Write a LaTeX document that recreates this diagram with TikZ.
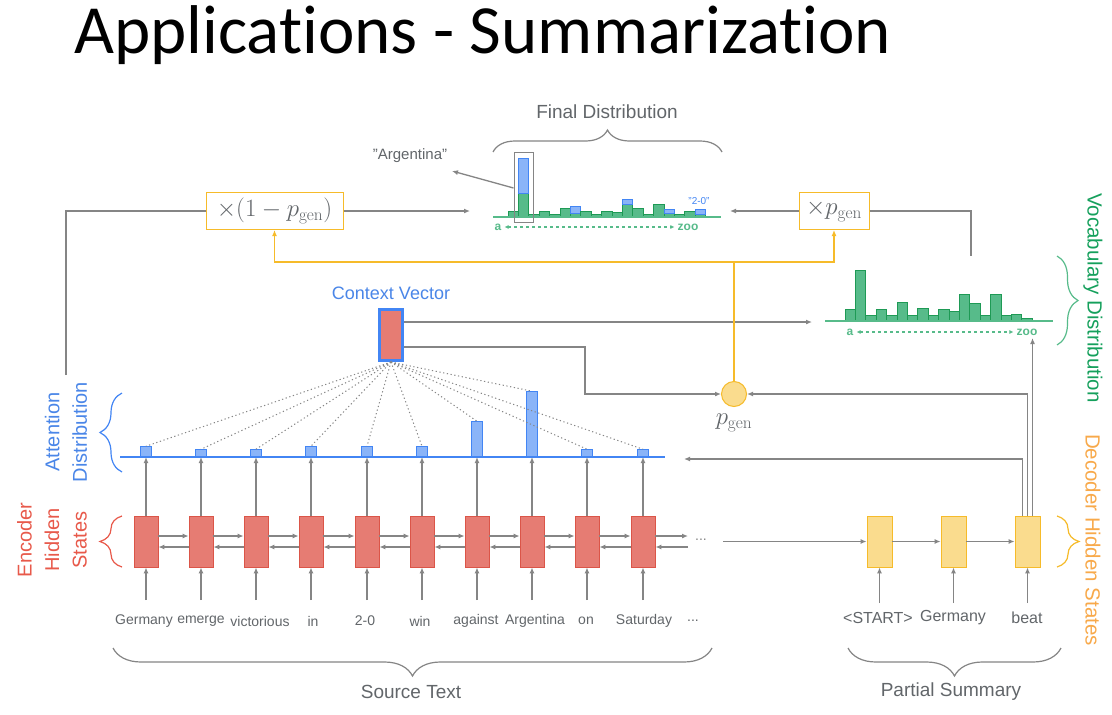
\documentclass[tikz,border=0pt]{standalone}
\usepackage[no-math]{fontspec}
\setmainfont{Liberation Sans}
\newfontfamily\titlefont[Ligatures={NoCommon}]{Carlito}
\usetikzlibrary{arrows.meta,decorations.pathreplacing,calc}
\definecolor{lgray}{HTML}{858585}
\definecolor{tgray}{HTML}{62666A}
\definecolor{redfill}{HTML}{E67C73}
\definecolor{reddraw}{HTML}{DB5548}
\definecolor{redtext}{HTML}{E8594A}
\definecolor{bluefill}{HTML}{8AB4F8}
\definecolor{bluedraw}{HTML}{4285F4}
\definecolor{bluetext}{HTML}{4A86E8}
\definecolor{greenfill}{HTML}{57BB8A}
\definecolor{greendraw}{HTML}{1E9A55}
\definecolor{greentext}{HTML}{15A05C}
\definecolor{yfill}{HTML}{FADC8E}
\definecolor{ydraw}{HTML}{F6BB2A}
\definecolor{otext}{HTML}{F8A94A}
\begin{document}
\begin{tikzpicture}[x=1pt,y=-1pt,
  arr/.style={draw=lgray, line width=1.3pt, -{Latex[length=6pt,width=5pt]}},
  gline/.style={draw=lgray, line width=1.3pt},
  oarr/.style={draw=ydraw, line width=1.3pt, -{Latex[length=6pt,width=5pt]}},
  oline/.style={draw=ydraw, line width=1.3pt},
  encbox/.style={rectangle, draw=reddraw, fill=redfill, line width=0.8pt, minimum width=24pt, minimum height=51pt, inner sep=0pt},
  decbox/.style={rectangle, draw=ydraw, fill=yfill, line width=0.8pt, minimum width=25pt, minimum height=51pt, inner sep=0pt},
  attbar/.style={rectangle, draw=bluedraw, fill=bluefill, line width=0.8pt, minimum width=11pt, inner sep=0pt},
  gbar/.style={draw=greendraw, fill=greenfill, line width=0.8pt},
  bbar/.style={draw=bluedraw, fill=bluefill, line width=0.8pt},
  word/.style={font=\fontsize{14}{16}\selectfont, text=tgray, inner sep=1pt},
  dword/.style={font=\fontsize{16}{18}\selectfont, text=tgray, inner sep=1pt},
  lbl/.style={font=\fontsize{19}{22}\selectfont, text=tgray, inner sep=1pt},
  mulbox/.style={rectangle, draw=ydraw, fill=white, line width=1pt, minimum height=37pt, inner sep=1pt, text=tgray},
  brc/.style={decorate, line width=1.2pt},
  dots/.style={draw=lgray, line width=1pt, dash pattern=on 1.2pt off 2.6pt},
  small/.style={font=\bfseries\fontsize{12}{13}\selectfont, text=greenfill, inner sep=0pt},
]
\useasboundingbox (0,0) rectangle (1112,715);
\fill[white] (0,0) rectangle (1112,715);

% title
\node[anchor=base west, inner sep=0pt, font=\titlefont\fontsize{69}{80}\selectfont] (title) at (74,53) {Applications - Summarization};

% encoder hidden states, attention bars
\foreach \x/\h [count=\i] in {146/10,201/7,256/7,311/10,367/10,422/10,477/35,532/65,587/7,643/7}{
  \node[encbox] (e\i) at (\x,541.5) {};
  \coordinate (in\i) at (\x,600);
  \node[attbar, minimum height=\h pt, anchor=south] (a\i) at (\x,457) {};
}
\draw[draw=bluedraw, line width=1.2pt] (120,457) -- (665,457);
\foreach \i in {1,...,10}{
  \draw[arr] (e\i.north) -- (a\i.south);
}
\foreach \i/\j in {1/2,2/3,3/4,4/5,5/6,6/7,7/8,8/9,9/10}{
  \draw[arr] ([yshift=5.5pt]e\i.east) -- ([yshift=5.5pt]e\j.west);
  \draw[arr] ([yshift=-5.5pt]e\j.west) -- ([yshift=-5.5pt]e\i.east);
}
\coordinate (eout) at (688,536);
\coordinate (ein) at (688,547);
\draw[arr] ([yshift=5.5pt]e10.east) -- (eout);
\draw[arr] (ein) -- ([yshift=-5.5pt]e10.east);
\node[word, text=lgray] (edots) at (701,540) {...};

% words
\foreach \x/\w [count=\i] in {144/Germany,201/emerge,260/victorious,313/in,365/2-0,420/win,476/against,535/Argentina,586/on,644/Saturday}{
  \node[word] (w\i) at (\x,621) {\w};
  \draw[arr] (in\i) -- (e\i.south);
}
\node[word] (wdots) at (693,621) {...};

% context vector
\node[rectangle, draw=bluedraw, fill=redfill, line width=3pt, minimum width=23pt, minimum height=51pt, inner sep=0pt] (cv) at (391,335) {};
\node[font=\fontsize{18}{20}\selectfont, text=bluetext] (cvl) at (391,293) {Context Vector};
\foreach \i in {1,...,10}{
  \draw[dots] (cv.south) -- (a\i.north);
}

% p_gen
\node[circle, draw=ydraw, fill=yfill, line width=1pt, minimum size=25pt, inner sep=0pt] (pg) at (734,394) {};
\node[text=tgray, font=\fontsize{23}{26}\selectfont] (pgl) at (734,423) {$p_{\mathrm{gen}}$};
\coordinate (k1) at (585,394);
\draw[arr] ([yshift=-12pt]cv.east) -| (k1) -- (pg.west);

% decoder
\node[decbox] (d1) at (879.5,541.5) {};
\node[decbox] (d2) at (953.5,541.5) {};
\node[decbox] (d3) at (1027.5,541.5) {};
\coordinate (dstart) at (723,541.5);
\draw[arr] (dstart) -- (d1.west);
\draw[arr] (d1.east) -- (d2.west);
\draw[arr] (d2.east) -- (d3.west);
\node[dword] (s1) at (878,618) {<START>};
\node[dword] (s2) at (953,618) {Germany};
\node[dword] (s3) at (1027,618) {beat};
\coordinate (din1) at (879.5,603);
\coordinate (din2) at (953.5,603);
\coordinate (din3) at (1027.5,603);
\draw[arr] (din1) -- (d1.south);
\draw[arr] (din2) -- (d2.south);
\draw[arr] (din3) -- (d3.south);
\coordinate (attin) at (684,459);
\coordinate (vup) at (1032.5,338);
\draw[arr] ([xshift=-5pt]d3.north) |- (attin);
\draw[arr] (d3.north) |- (pg.east);
\draw[arr] ([xshift=5pt]d3.north) -- (vup);

% vocabulary distribution
\foreach \t [count=\i from 0] in {309,270,315,309,315,302,315,308,315,309,311,294,303,315,294,315,314,318}{
  \pgfmathsetmacro\xa{845+10.4*\i}
  \pgfmathsetmacro\xb{\xa+10.4}
  \draw[gbar] (\xa,321) rectangle (\xb,\t);
}
\draw[draw=greenfill, line width=1.3pt] (825,321) -- (1053,321);
\node[small] (va) at (850,332) {a};
\node[small] (vz) at (1027,332) {zoo};
\draw[draw=greenfill, line width=1.1pt, dashed, {Latex[length=4pt,width=4pt]}-{Latex[length=4pt,width=4pt]}] ($(va.east)+(3,0)$) -- ($(vz.west)+(-3,0)$);
\coordinate (vin) at (812,322);
\draw[arr] ([yshift=13pt]cv.east) -- (vin);

% final distribution
\node[lbl] (fdl) at (607,112) {Final Distribution};
\foreach \g/\b [count=\i from 0] in {211/0,193/158,214/0,211/0,214/0,208/0,213/206,211/0,214/0,211/0,212/0,204/199,208/0,214/0,204/0,213/209,214/0,211/0,214/209}{
  \pgfmathsetmacro\xa{508+10.4*\i}
  \pgfmathsetmacro\xb{\xa+10.4}
  \draw[gbar] (\xa,217) rectangle (\xb,\g);
  \ifnum\b>0 \draw[bbar] (\xa,\g) rectangle (\xb,\b); \fi
}
\draw[draw=greenfill, line width=1.3pt] (493,217) -- (721,217);
\node[small] (fa) at (498,227) {a};
\node[small] (fz) at (688,227) {zoo};
\draw[draw=greenfill, line width=1.1pt, dashed, {Latex[length=4pt,width=4pt]}-{Latex[length=4pt,width=4pt]}] ($(fa.east)+(3,0)$) -- ($(fz.west)+(-3,0)$);
\node[font=\fontsize{10}{11}\selectfont, text=bluedraw, inner sep=0pt] (f20) at (699,201) {"2-0"};
\node[rectangle, draw=lgray, line width=1pt, minimum width=19pt, minimum height=70pt, inner sep=0pt] (arg) at (523.5,187) {};
\node[font=\fontsize{15}{17}\selectfont, text=tgray] (argl) at (410,156) {"Argentina"};
\coordinate (argtip) at (452,171);
\draw[arr] ([yshift=-1pt]arg.west) -- (argtip);

% multiplier boxes
\node[mulbox, minimum width=137pt, font=\fontsize{25}{28}\selectfont] (m1) at (274.5,211) {$\times(1-p_{\mathrm{gen}})$};
\node[mulbox, minimum width=70pt, font=\fontsize{26}{28}\selectfont] (m2) at (834,211) {$\times p_{\mathrm{gen}}$};
\coordinate (fdin1) at (470,211);
\coordinate (fdin2) at (730,211);
\draw[arr] (m1.east) -- (fdin1);
\draw[arr] (m2.west) -- (fdin2);
\coordinate (lstart) at (66,375);
\draw[gline] (lstart) |- (m1.west);
\coordinate (vtop) at (971,256);
\draw[gline] (m2.east) -| (vtop);
\coordinate (oj) at (734,262);
\draw[oarr] (pg.north) -- (oj) -| (m1.south);
\draw[oarr] (oj) -| (m2.south);

% braces
\draw[brc, draw=lgray, decoration={brace, amplitude=22pt}] (493,152) -- (722,152);
\draw[brc, draw=lgray, decoration={brace, amplitude=28pt}] (712,648) -- (113,648);
\draw[brc, draw=lgray, decoration={brace, amplitude=28pt}] (1061,648) -- (848,648);
\node[lbl] (src) at (411,692) {Source Text};
\node[lbl] (ps) at (951,692) {Partial Summary};
\draw[brc, draw=greenfill, decoration={brace, amplitude=21pt}] (1057,256) -- (1057,345);
\draw[brc, draw=ydraw, decoration={brace, amplitude=22pt}] (1057,516) -- (1057,567);
\draw[brc, draw=redtext, decoration={brace, amplitude=22pt}] (122,567) -- (122,516);
\draw[brc, draw=bluedraw, decoration={brace, amplitude=22pt}] (122,472) -- (122,393);

% side labels
\node[rotate=-90, text=greentext, font=\fontsize{20.5}{24}\selectfont] (vdl) at (1093,298) {Vocabulary Distribution};
\node[rotate=-90, text=otext, font=\fontsize{20.5}{24}\selectfont] (dhl) at (1093,540) {Decoder Hidden States};
\node[rotate=90, text=redtext, align=center, font=\fontsize{20}{27.5}\selectfont] (ehl) at (52,540) {Encoder\\Hidden\\States};
\node[rotate=90, text=bluetext, align=center, font=\fontsize{20}{27.5}\selectfont] (adl) at (66,432) {Attention\\Distribution};
\end{tikzpicture}
\end{document}
